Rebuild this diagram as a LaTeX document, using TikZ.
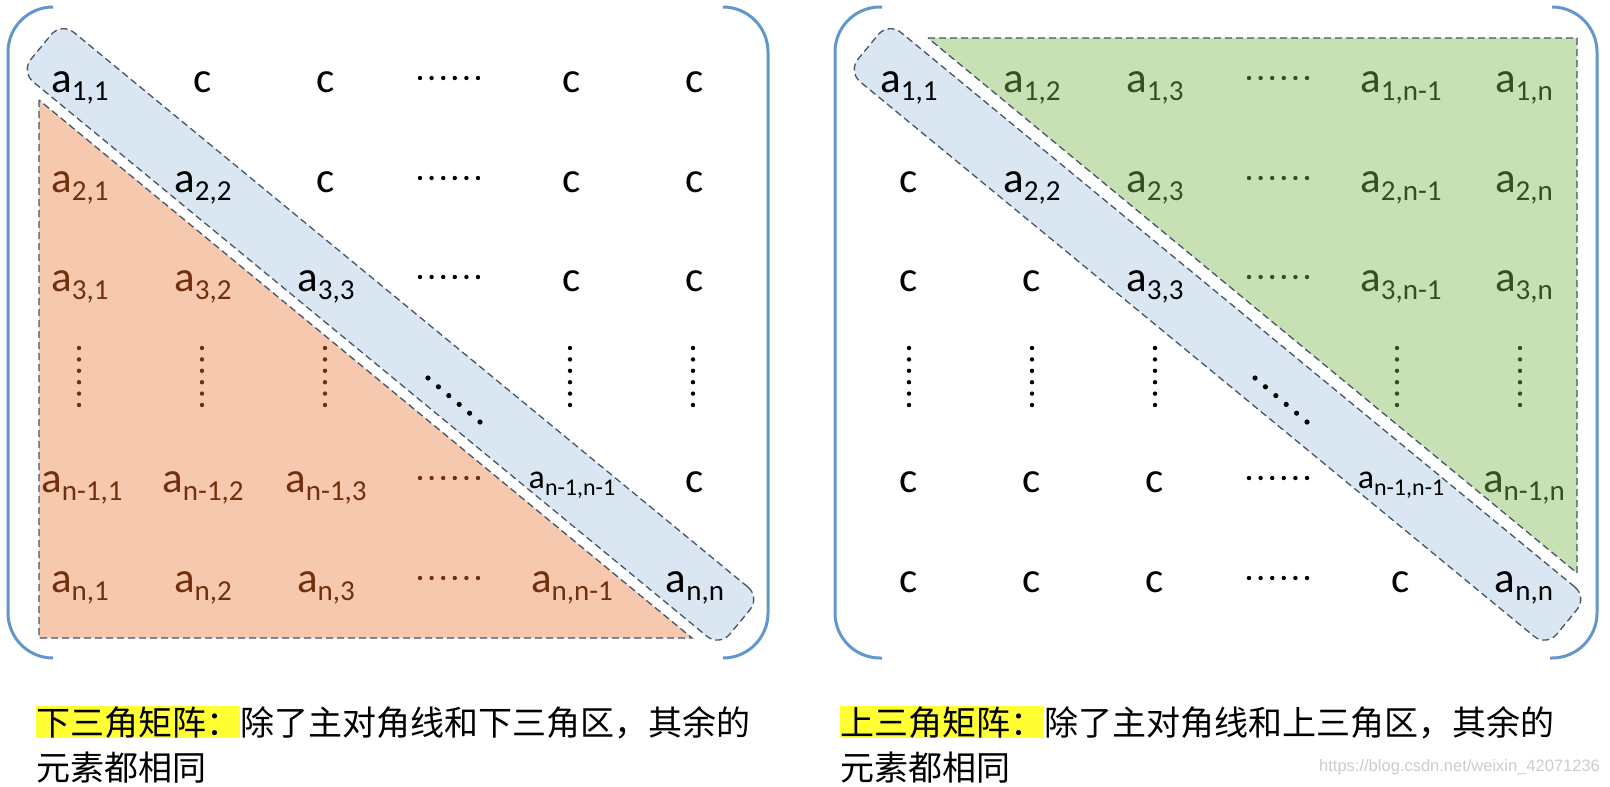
\documentclass[tikz,border=0pt]{standalone}
\usepackage{fontspec}
\setmainfont{Carlito}
\newfontfamily\cjk{Noto Sans CJK SC}
\newfontfamily\wmfont{Liberation Sans}
\usetikzlibrary{positioning}

\definecolor{bandfill}{RGB}{218,231,243}
\definecolor{edgeline}{RGB}{68,84,106}
\definecolor{lowfill}{RGB}{246,200,173}
\definecolor{upfill}{RGB}{199,225,181}
\definecolor{lowtext}{RGB}{112,48,14}
\definecolor{uptext}{RGB}{48,82,30}
\definecolor{brkt}{RGB}{98,151,204}
\definecolor{hlyellow}{RGB}{255,255,51}

\newcommand{\ael}[1]{a\raisebox{-8pt}{\fontsize{29}{29}\selectfont #1}}
\newcommand{\aelsm}[1]{{\fontsize{34}{34}\selectfont a}\raisebox{-7pt}{\fontsize{24}{24}\selectfont #1}}
\newcommand{\rowdots}[3]{\foreach \k in {0,...,5} \fill[#3] ({#1-29+11.6*\k},{#2-14}) circle (2.2pt);}
\newcommand{\vdotscol}[2]{\foreach \k in {0,...,5} \fill[#2] (#1,{348+11.4*\k}) circle (2.2pt);}
\newcommand{\ddotsband}[1]{\foreach \k in {0,...,5} \fill ({#1+10.4*\k},{378+8.8*\k}) circle (2.6pt);}

\begin{document}
\begin{tikzpicture}[x=1pt, y=-1pt,
    cell/.style={anchor=base, inner sep=0pt, font=\fontsize{43}{50}\selectfont},
    lowcell/.style={cell, text=lowtext},
    upcell/.style={cell, text=uptext},
    diagband/.style={draw=edgeline, fill=bandfill, dash pattern=on 7pt off 4pt,
        line width=1.3pt, rounded corners=16pt, inner sep=0pt},
    halftri/.style={draw=edgeline, dash pattern=on 7pt off 4pt, line width=1.3pt},
    bracket/.style={draw=brkt, line width=3pt, rounded corners=45pt},
    hlcap/.style={fill=hlyellow, inner sep=0pt, anchor=base west, font=\cjk\fontsize{34}{40}\selectfont},
    captext/.style={inner sep=0pt, anchor=base west, font=\cjk\fontsize{34}{40}\selectfont}]
    \useasboundingbox (0,0) rectangle (1610,787);

    % lower triangular matrix
    \fill[lowfill] (39,100) -- (39,638) -- (692,638) -- cycle;
    \draw[halftri] (39,100) -- (39,638) -- (692,638) -- cycle;
    \node[diagband, minimum width=905pt, minimum height=64pt, rotate=-39.45] (bandL) at (390.5,334.4) {};
    \draw[bracket] (53,7) -- (8,7) -- (8,658) -- (53,658);
    \draw[bracket] (724,7) -- (768,7) -- (768,658) -- (723,658);

    \node[cell] (L11) at (80,92) {\ael{1,1}};
    \node[cell] (L12) at (203,92) {c};
    \node[cell] (L13) at (326,92) {c};
    \rowdots{449}{92}{black}
    \node[cell] (L15) at (572,92) {c};
    \node[cell] (L16) at (695,92) {c};

    \node[lowcell] (L21) at (80,192) {\ael{2,1}};
    \node[cell] (L22) at (203,192) {\ael{2,2}};
    \node[cell] (L23) at (326,192) {c};
    \rowdots{449}{192}{black}
    \node[cell] (L25) at (572,192) {c};
    \node[cell] (L26) at (695,192) {c};

    \node[lowcell] (L31) at (80,291) {\ael{3,1}};
    \node[lowcell] (L32) at (203,291) {\ael{3,2}};
    \node[cell] (L33) at (326,291) {\ael{3,3}};
    \rowdots{449}{291}{black}
    \node[cell] (L35) at (572,291) {c};
    \node[cell] (L36) at (695,291) {c};

    \vdotscol{79}{lowtext}
    \vdotscol{202}{lowtext}
    \vdotscol{325}{lowtext}
    \ddotsband{428}
    \vdotscol{570}{black}
    \vdotscol{693}{black}

    \node[lowcell] (L51) at (82,492) {\ael{n-1,1}};
    \node[lowcell] (L52) at (203,492) {\ael{n-1,2}};
    \node[lowcell] (L53) at (326,492) {\ael{n-1,3}};
    \rowdots{449}{492}{lowtext}
    \node[cell] (L55) at (572,488) {\aelsm{n-1,n-1}};
    \node[cell] (L56) at (695,492) {c};

    \node[lowcell] (L61) at (80,592) {\ael{n,1}};
    \node[lowcell] (L62) at (203,592) {\ael{n,2}};
    \node[lowcell] (L63) at (326,592) {\ael{n,3}};
    \rowdots{449}{592}{lowtext}
    \node[lowcell] (L65) at (572,592) {\ael{n,n-1}};
    \node[cell] (L66) at (695,592) {\ael{n,n}};

    % upper triangular matrix
    \fill[upfill] (928,38) -- (1577,38) -- (1577,573) -- cycle;
    \draw[halftri] (928,38) -- (1577,38) -- (1577,573) -- cycle;
    \node[diagband, minimum width=905pt, minimum height=64pt, rotate=-39.45] (bandR) at (1217.5,334.4) {};
    \draw[bracket] (882,7) -- (835,7) -- (835,658) -- (882,658);
    \draw[bracket] (1552,7) -- (1597,7) -- (1597,658) -- (1550,658);

    \node[cell] (R11) at (909,92) {\ael{1,1}};
    \node[upcell] (R12) at (1032,92) {\ael{1,2}};
    \node[upcell] (R13) at (1155,92) {\ael{1,3}};
    \rowdots{1278}{92}{uptext}
    \node[upcell] (R15) at (1401,92) {\ael{1,n-1}};
    \node[upcell] (R16) at (1524,92) {\ael{1,n}};

    \node[cell] (R21) at (909,192) {c};
    \node[cell] (R22) at (1032,192) {\ael{2,2}};
    \node[upcell] (R23) at (1155,192) {\ael{2,3}};
    \rowdots{1278}{192}{uptext}
    \node[upcell] (R25) at (1401,192) {\ael{2,n-1}};
    \node[upcell] (R26) at (1524,192) {\ael{2,n}};

    \node[cell] (R31) at (909,291) {c};
    \node[cell] (R32) at (1032,291) {c};
    \node[cell] (R33) at (1155,291) {\ael{3,3}};
    \rowdots{1278}{291}{uptext}
    \node[upcell] (R35) at (1401,291) {\ael{3,n-1}};
    \node[upcell] (R36) at (1524,291) {\ael{3,n}};

    \vdotscol{909}{black}
    \vdotscol{1032}{black}
    \vdotscol{1155}{black}
    \ddotsband{1255}
    \vdotscol{1397}{uptext}
    \vdotscol{1520}{uptext}

    \node[cell] (R51) at (909,492) {c};
    \node[cell] (R52) at (1032,492) {c};
    \node[cell] (R53) at (1155,492) {c};
    \rowdots{1278}{492}{black}
    \node[cell] (R55) at (1401,488) {\aelsm{n-1,n-1}};
    \node[upcell] (R56) at (1524,492) {\ael{n-1,n}};

    \node[cell] (R61) at (909,592) {c};
    \node[cell] (R62) at (1032,592) {c};
    \node[cell] (R63) at (1155,592) {c};
    \rowdots{1278}{592}{black}
    \node[cell] (R65) at (1401,592) {c};
    \node[cell] (R66) at (1524,592) {\ael{n,n}};

    % captions
    \node[hlcap] (capLhl) at (36,735) {下三角矩阵：};
    \node[captext] (capL1) at (capLhl.base east) {除了主对角线和下三角区，其余的};
    \node[captext] (capL2) at (36,780) {元素都相同};
    \node[hlcap] (capRhl) at (840,735) {上三角矩阵：};
    \node[captext] (capR1) at (capRhl.base east) {除了主对角线和上三角区，其余的};
    \node[captext] (capR2) at (840,780) {元素都相同};
    \node[inner sep=0pt, anchor=base west, text=gray!40, font=\wmfont\fontsize{16.5}{18}\selectfont] (wmark) at (1319,771) {https://blog.csdn.net/weixin\_42071236};
\end{tikzpicture}
\end{document}
